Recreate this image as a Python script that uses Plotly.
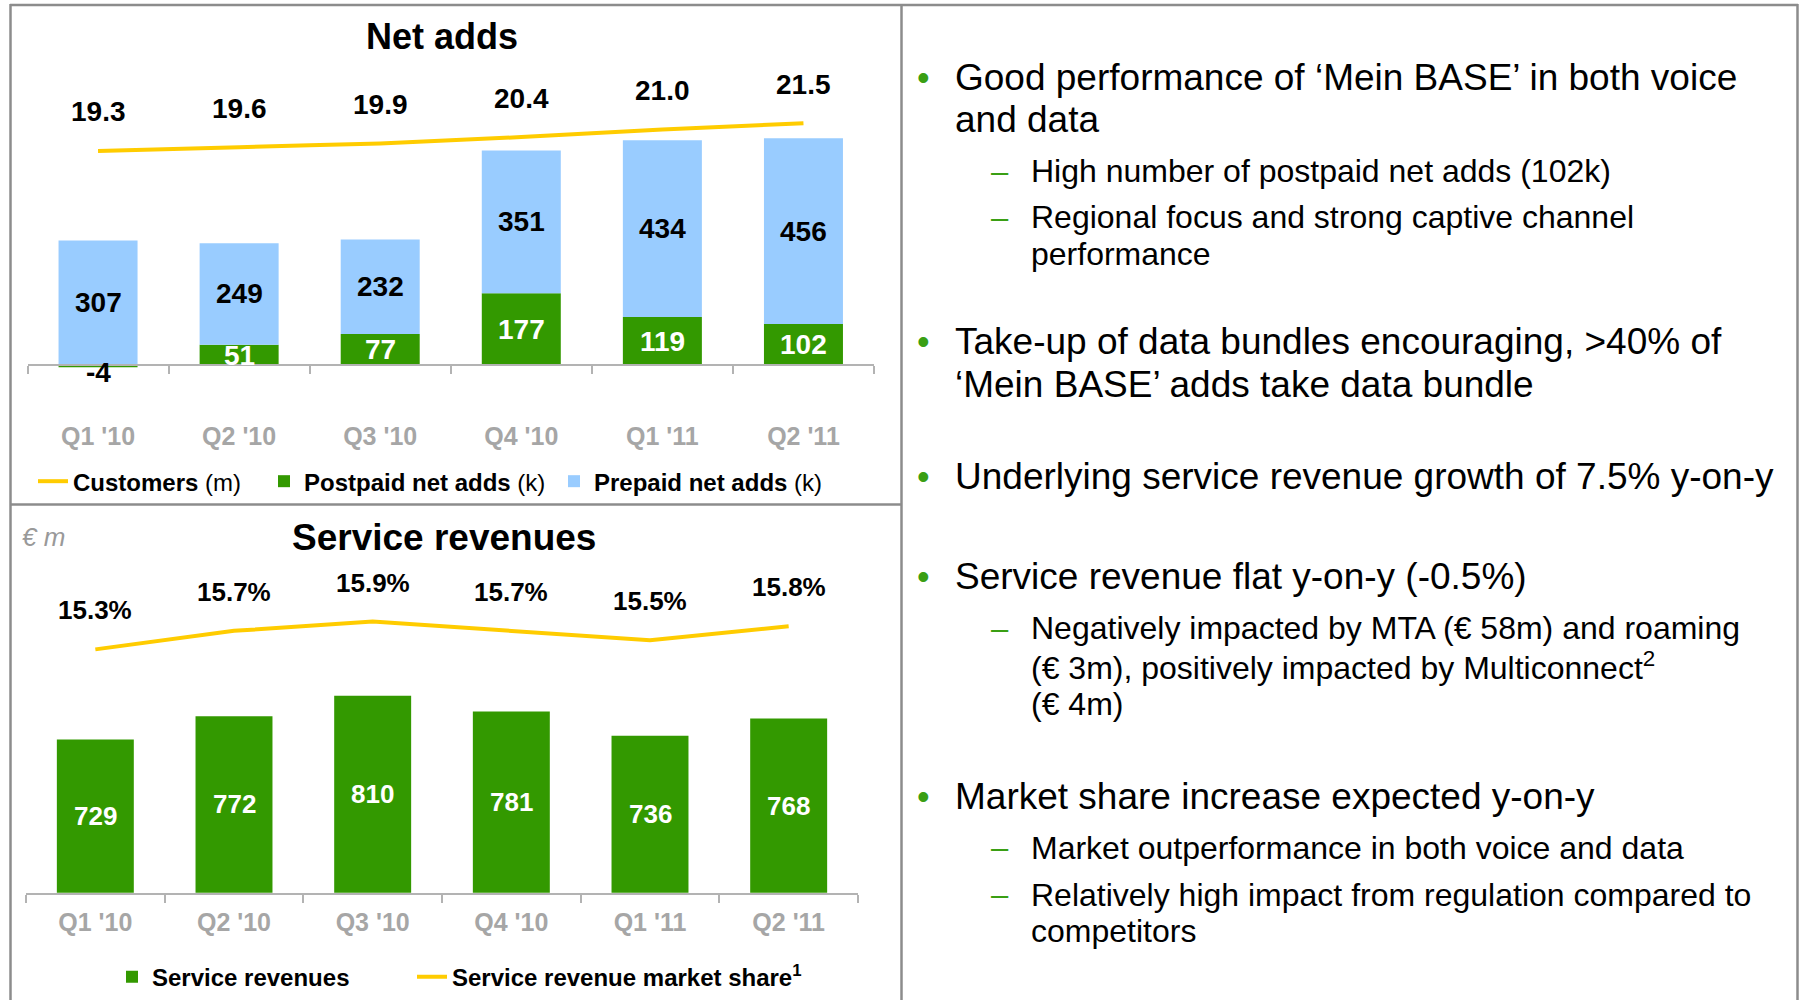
import plotly.graph_objects as go

# ---------------- data ----------------
quarters = ["Q1 '10", "Q2 '10", "Q3 '10", "Q4 '10", "Q1 '11", "Q2 '11"]
customers_m = [19.3, 19.6, 19.9, 20.4, 21.0, 21.5]
postpaid_k = [-4, 51, 77, 177, 119, 102]
prepaid_k = [307, 249, 232, 351, 434, 456]
service_rev = [729, 772, 810, 781, 736, 768]
market_share = [15.3, 15.7, 15.9, 15.7, 15.5, 15.8]

# ---------------- style ----------------
W, H = 1800, 1000
H_EFF = 993  # the captured page comes out slightly squeezed vertically
FONT = "Liberation Sans, Arial, sans-serif"
GREEN = "#339900"
BULLET_GREEN = "#3A9F14"
BLUE = "#99CCFF"
GOLD = "#FFCC00"
TICK_GRAY = "#A6A6A6"
AXIS_GRAY = "#B3B3B3"
FRAME_GRAY = "#8C8C8C"


def fx(px):
    return px / W


def fy(py):
    return 1 - py / H_EFF


fig = go.Figure()

# Net adds (top chart)
fig.add_trace(go.Bar(x=quarters, y=postpaid_k, name="<b>Postpaid net adds</b> (k)",
                     marker=dict(color=GREEN, line=dict(width=0)), width=0.56,
                     xaxis="x", yaxis="y", legend="legend2", hoverinfo="skip"))
fig.add_trace(go.Bar(x=quarters, y=prepaid_k, name="<b>Prepaid net adds</b> (k)",
                     marker=dict(color=BLUE, line=dict(width=0)), width=0.56,
                     xaxis="x", yaxis="y", legend="legend3", hoverinfo="skip"))
fig.add_trace(go.Scatter(x=quarters, y=customers_m, mode="lines", name="<b>Customers</b> (m)",
                         line=dict(color=GOLD, width=4, shape="spline", smoothing=0.5),
                         xaxis="x", yaxis="y2", legend="legend", hoverinfo="skip"))

# Service revenues (bottom chart)
fig.add_trace(go.Bar(x=quarters, y=service_rev, name="<b>Service revenues</b>",
                     marker=dict(color=GREEN, line=dict(width=0)), width=0.555,
                     xaxis="x2", yaxis="y3", legend="legend4", hoverinfo="skip"))
fig.add_trace(go.Scatter(x=quarters, y=market_share, mode="lines",
                         name="<b>Service revenue market share<sup>1</sup></b>",
                         line=dict(color=GOLD, width=4),
                         xaxis="x2", yaxis="y4", legend="legend5", hoverinfo="skip"))

xcommon = dict(type="category", categoryorder="array", categoryarray=quarters,
               range=[-0.5, 5.5], showgrid=False, zeroline=False, showline=True,
               linecolor=AXIS_GRAY, linewidth=2, ticks="outside", tickson="boundaries",
               ticklen=8, tickwidth=2, tickcolor=AXIS_GRAY,
               tickfont=dict(family=FONT, size=25, color=TICK_GRAY, weight="bold"),
               fixedrange=True)
ycommon = dict(visible=False, showgrid=False, zeroline=False, fixedrange=True)

BAR_MIN = 445  # visible base of the service revenue axis

annotations = []

# Titles
annotations.append(dict(text="<b>Net adds</b>", x=fx(442), y=fy(37), xref="paper", yref="paper",
                        showarrow=False, xanchor="center", yanchor="middle",
                        font=dict(family=FONT, size=36, color="black")))
annotations.append(dict(text="<b>Service revenues</b>", x=fx(444), y=fy(541), xref="paper", yref="paper",
                        showarrow=False, xanchor="center", yanchor="middle",
                        font=dict(family=FONT, size=37, color="black")))
annotations.append(dict(text="<i>€ m</i>", x=fx(20), y=fy(541), xref="paper", yref="paper",
                        showarrow=False, xanchor="left", yanchor="middle",
                        font=dict(family=FONT, size=26, color="#999999")))

# Net adds labels
for q, post, pre, cust in zip(quarters, postpaid_k, prepaid_k, customers_m):
    base = max(post, 0)
    annotations.append(dict(text=f"<b>{pre}</b>", x=q, y=base + pre / 2, xref="x", yref="y",
                            showarrow=False, xanchor="center", yanchor="middle",
                            font=dict(family=FONT, size=28, color="black")))
    if post >= 0:
        annotations.append(dict(text=f"<b>{post}</b>", x=q, y=post / 2, xref="x", yref="y",
                                showarrow=False, xanchor="center", yanchor="middle",
                                font=dict(family=FONT, size=28, color="white")))
    else:
        annotations.append(dict(text=f"<b>{post}</b>", x=q, y=post, xref="x", yref="y",
                                showarrow=False, xanchor="center", yanchor="middle", yshift=-5,
                                font=dict(family=FONT, size=28, color="black")))
    annotations.append(dict(text=f"<b>{cust:.1f}</b>", x=q, y=cust, xref="x", yref="y2",
                            showarrow=False, xanchor="center", yanchor="middle", yshift=39,
                            font=dict(family=FONT, size=28, color="black")))

# Service revenue labels
for q, rev, share in zip(quarters, service_rev, market_share):
    annotations.append(dict(text=f"<b>{rev}</b>", x=q, y=(BAR_MIN + rev) / 2, xref="x2", yref="y3",
                            showarrow=False, xanchor="center", yanchor="middle",
                            font=dict(family=FONT, size=26, color="white")))
    annotations.append(dict(text=f"<b>{share:.1f}%</b>", x=q, y=share, xref="x2", yref="y4",
                            showarrow=False, xanchor="center", yanchor="middle", yshift=39,
                            font=dict(family=FONT, size=26, color="black")))

# Right panel text
text_lines = [
    ("•", "Good performance of ‘Mein BASE’ in both voice", 78),
    (None, "and data", 120.5),
    ("–", "High number of postpaid net adds (102k)", 172.6),
    ("–", "Regional focus and strong captive channel", 219),
    (None, "performance", 256),
    ("•", "Take-up of data bundles encouraging, &gt;40% of", 344),
    (None, "‘Mein BASE’ adds take data bundle", 387),
    ("•", "Underlying service revenue growth of 7.5% y-on-y", 480),
    ("•", "Service revenue flat y-on-y (-0.5%)", 580.5),
    ("–", "Negatively impacted by MTA (€ 58m) and roaming", 632.6),
    (None, "(€ 3m), positively impacted by Multiconnect<sup>2</sup>", 671),
    (None, "(€ 4m)", 709),
    ("•", "Market share increase expected y-on-y", 802),
    ("–", "Market outperformance in both voice and data", 854),
    ("–", "Relatively high impact from regulation compared to", 901),
    (None, "competitors", 937.6),
]
level = "main"
for marker, txt, yc in text_lines:
    if marker == "•":
        level = "main"
    elif marker == "–":
        level = "sub"
    if level == "main":
        tx, size = 953, 37
    else:
        tx, size = 1029, 32
    annotations.append(dict(text=txt, x=fx(tx), y=fy(yc), xref="paper", yref="paper",
                            showarrow=False, xanchor="left", yanchor="middle",
                            font=dict(family=FONT, size=size, color="black")))
    if marker == "•":
        annotations.append(dict(text="•", x=fx(923), y=fy(yc), xref="paper", yref="paper",
                                showarrow=False, xanchor="center", yanchor="middle",
                                font=dict(family=FONT, size=36, color=BULLET_GREEN)))
    elif marker == "–":
        annotations.append(dict(text="–", x=fx(1000), y=fy(yc), xref="paper", yref="paper",
                                showarrow=False, xanchor="center", yanchor="middle",
                                font=dict(family=FONT, size=31, color=BULLET_GREEN)))

# Frame
shapes = []
def hline(x0, x1, y):
    shapes.append(dict(type="line", xref="paper", yref="paper", x0=fx(x0), x1=fx(x1), y0=fy(y), y1=fy(y),
                       line=dict(color=FRAME_GRAY, width=2.5)))
def vline(x, y0, y1):
    shapes.append(dict(type="line", xref="paper", yref="paper", x0=fx(x), x1=fx(x), y0=fy(y0), y1=fy(y1),
                       line=dict(color=FRAME_GRAY, width=2.5)))
hline(10, 1798, 5)
vline(10.5, 4, 1012)
vline(1797.5, 4, 1012)
vline(901.5, 4, 1012)
hline(10, 901.5, 508)


def leg(xpx, ypx):
    return dict(x=fx(xpx), y=fy(ypx), xanchor="left", yanchor="middle", orientation="h",
                bgcolor="rgba(0,0,0,0)", borderwidth=0,
                font=dict(family=FONT, size=24, color="black"),
                itemclick=False, itemdoubleclick=False)


# top bar axis: zero at 368 px, 0.41 px per thousand
Y_ZERO, PX_PER_K = 368, 0.41
Y_LO, Y_HI = -20, 600

fig.update_layout(
    width=W, height=H, margin=dict(l=0, r=0, t=0, b=0),
    paper_bgcolor="white", plot_bgcolor="rgba(0,0,0,0)",
    barmode="relative", showlegend=True,
    xaxis=dict(**xcommon, domain=[fx(27.5), fx(874)], anchor="free", position=fy(Y_ZERO),
               ticklabelstandoff=49),
    xaxis2=dict(**xcommon, domain=[fx(26), fx(858)], anchor="y3", ticklabelstandoff=6),
    yaxis=dict(**ycommon, domain=[fy(Y_ZERO - Y_LO * PX_PER_K), fy(Y_ZERO - Y_HI * PX_PER_K)],
               range=[Y_LO, Y_HI], anchor="x"),
    yaxis2=dict(**ycommon, domain=[fy(162.2), fy(111.4)], range=[18.5, 22.5], anchor="x"),
    yaxis3=dict(**ycommon, domain=[fy(899), fy(679)], range=[BAR_MIN, 850], anchor="x2"),
    yaxis4=dict(**ycommon, domain=[fy(668), fy(612)], range=[15.0, 16.2], anchor="x2"),
    legend=leg(33, 485),
    legend2=leg(264, 485),
    legend3=leg(554, 485),
    legend4=leg(112, 984),
    legend5=leg(412, 984),
    annotations=annotations,
    shapes=shapes,
)

fig.write_html("out.html", config={"displayModeBar": False},
               post_script="document.body.style.margin='0px';document.body.style.overflow='hidden';")
